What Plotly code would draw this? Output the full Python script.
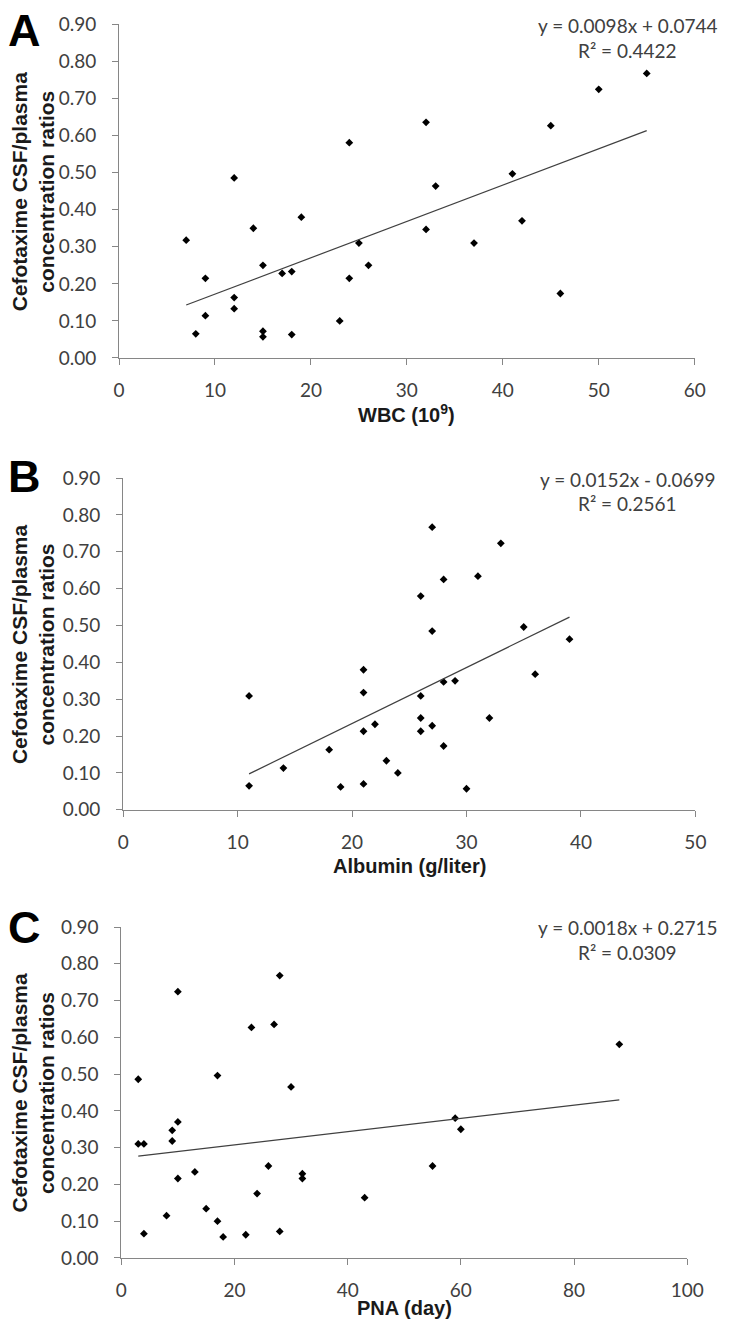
import plotly.graph_objects as go

# ---------------- data ----------------
wbc = [7, 12, 8, 9, 9, 12, 12, 14, 15, 15, 15, 17, 18, 18, 19, 23, 24, 24, 25, 26,
       32, 33, 32, 37, 41, 42, 45, 46, 50, 55]
ratio_a = [0.318, 0.486, 0.065, 0.215, 0.114, 0.163, 0.133, 0.350, 0.250, 0.072, 0.057,
           0.228, 0.233, 0.063, 0.380, 0.100, 0.581, 0.215, 0.310, 0.250,
           0.636, 0.464, 0.347, 0.310, 0.497, 0.370, 0.627, 0.174, 0.725, 0.768]

albumin = [11, 11, 14, 18, 19, 21, 21, 21, 21, 22, 23, 24, 26, 27, 27, 28, 26, 26, 26, 27,
           28, 29, 28, 30, 31, 32, 33, 35, 36, 39]
ratio_b = [0.309, 0.065, 0.113, 0.163, 0.062, 0.380, 0.318, 0.213, 0.070, 0.232, 0.133, 0.100,
           0.580, 0.767, 0.485, 0.625, 0.309, 0.249, 0.213, 0.228,
           0.347, 0.350, 0.173, 0.057, 0.634, 0.249, 0.723, 0.496, 0.368, 0.463]

pna = [3, 3, 4, 4, 8, 9, 9, 10, 10, 10, 13, 15, 17, 17, 18, 22, 23, 24, 26, 27, 28, 28,
       30, 32, 32, 43, 55, 59, 60, 88]
ratio_c = [0.486, 0.310, 0.310, 0.066, 0.115, 0.347, 0.318, 0.724, 0.370, 0.216, 0.234, 0.134,
           0.496, 0.100, 0.057, 0.063, 0.627, 0.175, 0.250, 0.635, 0.768, 0.072,
           0.465, 0.229, 0.216, 0.164, 0.250, 0.380, 0.350, 0.581]

slopes = [0.0098, 0.0152, 0.0018]
intercepts = [0.0744, -0.0699, 0.2715]
eq_text = ["y = 0.0098x + 0.0744", "y = 0.0152x - 0.0699", "y = 0.0018x + 0.2715"]
r2_text = ["R² = 0.4422", "R² = 0.2561", "R² = 0.0309"]
panel_labels = ["A", "B", "C"]
x_titles = ["WBC (10<sup>9</sup>)", "Albumin (g/liter)", "PNA (day)"]
y_title = "Cefotaxime CSF/plasma<br>concentration ratios"
x_ranges = [[0, 60], [0, 50], [0, 100]]
x_dticks = [10, 10, 20]
y_ticks = [0.0, 0.1, 0.2, 0.3, 0.4, 0.5, 0.6, 0.7, 0.8, 0.9]

# ---------------- layout geometry (pixels) ----------------
W, H = 733, 1339
plot_px = [  # (left, right, top, bottom)
    (116.7, 711.0, 12.7, 352.0),
    (121.0, 711.7, 474.3, 811.7),
    (119.0, 703.3, 931.0, 1267.7),
]
label_y = [19, 473, 932]
xtitle_off = [57, 57, 51]

def px_x(x):
    return x / W

def px_y(y):
    return 1 - y / H

fig = go.Figure()

xs = [wbc, albumin, pna]
ys = [ratio_a, ratio_b, ratio_c]

AX = "#868686"
TXT = "#404040"
tick_font = dict(family="Lato, Carlito, sans-serif", size=19, color=TXT)
bold_font = "Liberation Sans, Arial, sans-serif"

for i in range(3):
    n = "" if i == 0 else str(i + 1)
    xa, ya = "x" + n, "y" + n
    fig.add_trace(go.Scatter(
        x=xs[i], y=ys[i], mode="markers", xaxis=xa, yaxis=ya,
        marker=dict(symbol="diamond", size=6, color="black"),
        showlegend=False, hoverinfo="x+y"))
    x0, x1 = min(xs[i]), max(xs[i])
    fig.add_trace(go.Scatter(
        x=[x0, x1], y=[slopes[i] * x0 + intercepts[i], slopes[i] * x1 + intercepts[i]],
        mode="lines", xaxis=xa, yaxis=ya,
        line=dict(color="#404040", width=1.2), showlegend=False, hoverinfo="skip"))

    l, r, t, b = plot_px[i]
    fig.update_layout(**{
        "xaxis" + n: dict(
            domain=[px_x(l), px_x(r)], anchor=ya, range=x_ranges[i], dtick=x_dticks[i],
            tick0=0, showline=True, linecolor=AX, linewidth=1, ticks="outside",
            ticklen=6, tickcolor=AX, tickwidth=1, showgrid=False, zeroline=False,
            tickfont=tick_font, ticklabelstandoff=9),
        "yaxis" + n: dict(
            domain=[px_y(b), px_y(t)], anchor=xa, range=[0, 0.9],
            tickvals=y_ticks, tickformat=".2f",
            showline=True, linecolor=AX, linewidth=1, ticks="outside",
            ticklen=6, tickcolor=AX, tickwidth=1, showgrid=False, zeroline=False,
            tickfont=tick_font, ticklabelstandoff=12),
    })

    cx = (l + r) / 2
    cy = (t + b) / 2
    ann = [
        dict(text="<b>" + panel_labels[i] + "</b>", x=0, y=px_y(label_y[i]),
             xanchor="left", yanchor="middle", font=dict(family=bold_font, size=45, color="black")),
        dict(text="<b>" + y_title + "</b>", x=px_x(28), y=px_y(cy), textangle=-90,
             xanchor="center", yanchor="middle",
             font=dict(family=bold_font, size=21, color="#1a1a1a")),
        dict(text="<b>" + x_titles[i] + "</b>", x=px_x(cx), y=px_y(b + xtitle_off[i]),
             xanchor="center", yanchor="middle",
             font=dict(family=bold_font, size=20, color="#1a1a1a")),
        dict(text=eq_text[i], x=px_x(642), y=px_y(t + 1),
             xanchor="center", yanchor="middle", font=dict(family="Lato, sans-serif", size=19, color=TXT)),
        dict(text=r2_text[i], x=px_x(642), y=px_y(t + 26),
             xanchor="center", yanchor="middle", font=dict(family="Lato, sans-serif", size=19, color=TXT)),
    ]
    for a in ann:
        a.update(xref="paper", yref="paper", showarrow=False)
        fig.add_annotation(**a)

fig.update_layout(
    width=W, height=H, margin=dict(l=0, r=0, t=0, b=0),
    paper_bgcolor="white", plot_bgcolor="white",
)

fig.write_html(
    "out.html",
    config={"displayModeBar": False},
    post_script="document.body.style.margin='0';document.body.style.overflow='hidden';",
)
